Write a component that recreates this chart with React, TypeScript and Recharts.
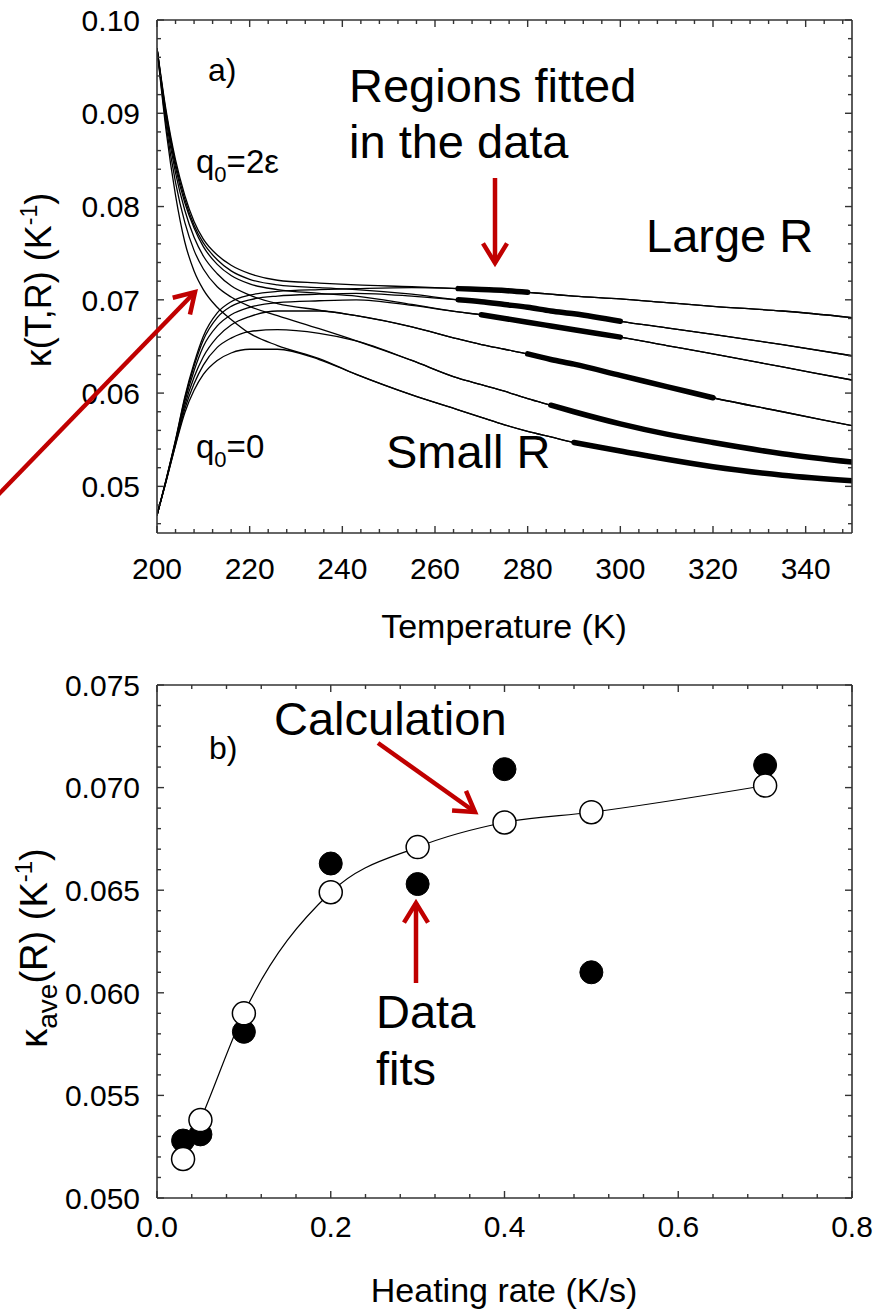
import React from 'react';
import { LineChart, Line, XAxis, YAxis } from 'recharts';

const FONT = '"Liberation Sans", Arial, Helvetica, sans-serif';
const AXIS = '#333333';
const RED = '#c00000';

// ---------- panel a) : kappa(T,R) curves ----------
const T_GRID = [200, 202, 204, 206, 208, 210, 213, 216, 220, 226, 235, 243, 255, 265, 270, 275, 280, 285, 290, 300, 310, 320, 335, 350];

const C1_TOP = [0.0970, 0.0902, 0.0850, 0.0812, 0.0784, 0.0765, 0.0748, 0.0737, 0.0728, 0.0721, 0.0718, 0.0716, 0.0714, 0.0712, 0.0711, 0.0710, 0.0708, 0.0706, 0.0704, 0.0701, 0.0697, 0.0693, 0.0688, 0.0681];
const C1_BOT = [0.0469, 0.0508, 0.0550, 0.0596, 0.0632, 0.0661, 0.0686, 0.0698, 0.0705, 0.0709, 0.0711, 0.0712, 0.0713, 0.0712, 0.0711, 0.0710, 0.0708, 0.0706, 0.0704, 0.0701, 0.0697, 0.0693, 0.0688, 0.0681];
const C2_TOP = [0.0970, 0.0899, 0.0846, 0.0808, 0.0780, 0.0761, 0.0743, 0.0731, 0.0722, 0.0716, 0.0713, 0.0711, 0.0706, 0.0700, 0.0698, 0.0695, 0.0692, 0.0688, 0.0685, 0.0677, 0.0670, 0.0663, 0.0652, 0.0640];
const C2_BOT = [0.0469, 0.0508, 0.0549, 0.0594, 0.0629, 0.0657, 0.0681, 0.0693, 0.0700, 0.0704, 0.0706, 0.0707, 0.0704, 0.0700, 0.0698, 0.0695, 0.0692, 0.0688, 0.0685, 0.0677, 0.0670, 0.0663, 0.0652, 0.0640];
const C3_TOP = [0.0970, 0.0896, 0.0842, 0.0804, 0.0777, 0.0757, 0.0738, 0.0726, 0.0717, 0.0711, 0.0707, 0.0704, 0.0695, 0.0687, 0.0684, 0.0680, 0.0676, 0.0672, 0.0668, 0.0660, 0.0651, 0.0642, 0.0628, 0.0614];
const C3_BOT = [0.0469, 0.0507, 0.0548, 0.0591, 0.0624, 0.0650, 0.0672, 0.0684, 0.0692, 0.0697, 0.0699, 0.0700, 0.0694, 0.0687, 0.0684, 0.0680, 0.0676, 0.0672, 0.0668, 0.0660, 0.0651, 0.0642, 0.0628, 0.0614];
const C4_TOP = [0.0970, 0.0892, 0.0836, 0.0796, 0.0767, 0.0747, 0.0728, 0.0715, 0.0705, 0.0696, 0.0689, 0.0683, 0.0671, 0.0658, 0.0652, 0.0647, 0.0642, 0.0636, 0.0631, 0.0619, 0.0607, 0.0595, 0.0580, 0.0565];
const C4_BOT = [0.0469, 0.0507, 0.0547, 0.0587, 0.0617, 0.0639, 0.0660, 0.0673, 0.0682, 0.0688, 0.0688, 0.0683, 0.0671, 0.0658, 0.0652, 0.0647, 0.0642, 0.0636, 0.0631, 0.0619, 0.0607, 0.0595, 0.0580, 0.0565];
const C5_TOP = [0.0970, 0.0886, 0.0826, 0.0783, 0.0753, 0.0733, 0.0714, 0.0703, 0.0693, 0.0683, 0.0669, 0.0656, 0.0635, 0.0616, 0.0609, 0.0602, 0.0594, 0.0587, 0.0580, 0.0567, 0.0556, 0.0547, 0.0535, 0.0526];
const C5_BOT = [0.0469, 0.0506, 0.0545, 0.0583, 0.0610, 0.0630, 0.0649, 0.0659, 0.0666, 0.0668, 0.0664, 0.0656, 0.0635, 0.0616, 0.0609, 0.0602, 0.0594, 0.0587, 0.0580, 0.0567, 0.0556, 0.0547, 0.0535, 0.0526];
const C6_TOP = [0.0970, 0.0880, 0.0812, 0.0762, 0.0731, 0.0711, 0.0692, 0.0679, 0.0664, 0.0651, 0.0637, 0.0620, 0.0598, 0.0582, 0.0574, 0.0566, 0.0559, 0.0553, 0.0547, 0.0538, 0.0529, 0.0521, 0.0512, 0.0506];
const C6_BOT = [0.0469, 0.0506, 0.0544, 0.0579, 0.0603, 0.0620, 0.0635, 0.0643, 0.0647, 0.0647, 0.0636, 0.0620, 0.0598, 0.0582, 0.0574, 0.0566, 0.0559, 0.0553, 0.0547, 0.0538, 0.0529, 0.0521, 0.0512, 0.0506];

// fitted temperature windows (thick segments), per curve pair
const FIT_START = [265, 265, 270, 280, 285, 290];
const FIT_END = [280, 300, 300, 320, 350, 350];

const A_X_TICKS = [200, 204, 208, 212, 216, 220, 224, 228, 232, 236, 240, 244, 248, 252, 256, 260, 264, 268, 272, 276, 280, 284, 288, 292, 296, 300, 304, 308, 312, 316, 320, 324, 328, 332, 336, 340, 344, 348];
const A_X_MAJOR = [200, 220, 240, 260, 280, 300, 320, 340];
const A_Y_TICKS = [0.046, 0.048, 0.05, 0.052, 0.054, 0.056, 0.058, 0.06, 0.062, 0.064, 0.066, 0.068, 0.07, 0.072, 0.074, 0.076, 0.078, 0.08, 0.082, 0.084, 0.086, 0.088, 0.09, 0.092, 0.094, 0.096, 0.098, 0.1];
const A_Y_MAJOR = [0.05, 0.06, 0.07, 0.08, 0.09, 0.1];

// ---------- panel b) ----------
const RATE = [0.03, 0.05, 0.1, 0.2, 0.3, 0.4, 0.5, 0.7];
const FITS = [0.0528, 0.0531, 0.0581, 0.0663, 0.0653, 0.0709, 0.0610, 0.0711];
const CALC = [0.0519, 0.0538, 0.0590, 0.0649, 0.0671, 0.0683, 0.0688, 0.0701];

const B_X_TICKS = [0, 0.04, 0.08, 0.12, 0.16, 0.2, 0.24, 0.28, 0.32, 0.36, 0.4, 0.44, 0.48, 0.52, 0.56, 0.6, 0.64, 0.68, 0.72, 0.76, 0.8];
const B_X_MAJOR = [0, 0.2, 0.4, 0.6, 0.8];
const B_Y_TICKS = [0.05, 0.051, 0.052, 0.053, 0.054, 0.055, 0.056, 0.057, 0.058, 0.059, 0.06, 0.061, 0.062, 0.063, 0.064, 0.065, 0.066, 0.067, 0.068, 0.069, 0.07, 0.071, 0.072, 0.073, 0.074, 0.075];
const B_Y_MAJOR = [0.05, 0.055, 0.06, 0.065, 0.07, 0.075];

const CURVES = [
  { top: C1_TOP, bot: C1_BOT },
  { top: C2_TOP, bot: C2_BOT },
  { top: C3_TOP, bot: C3_BOT },
  { top: C4_TOP, bot: C4_BOT },
  { top: C5_TOP, bot: C5_BOT },
  { top: C6_TOP, bot: C6_BOT },
];

const tableA = T_GRID.map((T, i) => {
  const row: Record<string, number | null> = { T };
  CURVES.forEach((c, j) => {
    row[`t${j}`] = c.top[i];
    row[`b${j}`] = c.bot[i];
    row[`f${j}`] = T >= FIT_START[j] && T <= FIT_END[j] ? c.top[i] : null;
  });
  return row;
});

const tableB = RATE.map((r, i) => ({ r, fit: FITS[i], calc: CALC[i] }));

const isIn = (v: number, arr: number[]) => arr.some((m) => Math.abs(m - v) < 1e-9);

type Side = 'bottom' | 'top' | 'left' | 'right';

function makeTick(side: Side, majors: number[], fmt: ((v: number) => string) | null, off: number) {
  return (props: any) => {
    const { x, y, payload } = props;
    const v = payload.value as number;
    const major = isIn(v, majors);
    const len = major ? 7 : 4;
    let x2 = x, y2 = y;
    if (side === 'bottom') y2 = y - len;
    if (side === 'top') y2 = y + len;
    if (side === 'left') x2 = x + len;
    if (side === 'right') x2 = x - len;
    let label = null;
    if (major && fmt) {
      if (side === 'bottom') {
        label = (
          <text x={x} y={y + off} textAnchor="middle" fontSize={30} fontFamily={FONT} fill="#000">
            {fmt(v)}
          </text>
        );
      } else if (side === 'left') {
        label = (
          <text x={x - off} y={y} dy="0.36em" textAnchor="end" fontSize={30} fontFamily={FONT} fill="#000">
            {fmt(v)}
          </text>
        );
      }
    }
    return (
      <g>
        <line x1={x} y1={y} x2={x2} y2={y2} stroke={AXIS} strokeWidth={1.4} />
        {label}
      </g>
    );
  };
}

function Arrow({ x1, y1, x2, y2 }: { x1: number; y1: number; x2: number; y2: number }) {
  const ang = Math.atan2(y2 - y1, x2 - x1);
  const L = 23;
  const s = 0.55;
  const a1 = ang + Math.PI - s;
  const a2 = ang + Math.PI + s;
  return (
    <g stroke={RED} strokeWidth={4.5} fill="none">
      <line x1={x1} y1={y1} x2={x2} y2={y2} />
      <polyline
        points={`${x2 + L * Math.cos(a1)},${y2 + L * Math.sin(a1)} ${x2},${y2} ${x2 + L * Math.cos(a2)},${y2 + L * Math.sin(a2)}`}
        strokeLinejoin="miter"
      />
    </g>
  );
}

const axisLine = { stroke: AXIS, strokeWidth: 1.6 };

function PanelA() {
  return (
    <LineChart width={892} height={660} data={tableA} margin={{ top: 19, right: 39, bottom: 126, left: 156 }}>
      <XAxis
        xAxisId="b" dataKey="T" type="number" domain={[200, 350]} allowDataOverflow
        ticks={A_X_TICKS} interval={0} height={1} tickSize={0} tickMargin={0} axisLine={axisLine} tickLine={false}
        tick={makeTick('bottom', A_X_MAJOR, (v) => String(v), 46)}
      />
      <XAxis
        xAxisId="t" orientation="top" dataKey="T" type="number" domain={[200, 350]} allowDataOverflow
        ticks={A_X_TICKS} interval={0} height={1} tickSize={0} tickMargin={0} axisLine={axisLine} tickLine={false}
        tick={makeTick('top', A_X_MAJOR, null, 0)}
      />
      <YAxis
        yAxisId="l" type="number" domain={[0.045, 0.1]} allowDataOverflow
        ticks={A_Y_TICKS} interval={0} width={1} tickSize={0} tickMargin={0} axisLine={axisLine} tickLine={false}
        tick={makeTick('left', A_Y_MAJOR, (v) => v.toFixed(2), 17)}
      />
      <YAxis
        yAxisId="r" orientation="right" type="number" domain={[0.045, 0.1]} allowDataOverflow
        ticks={A_Y_TICKS} interval={0} width={1} tickSize={0} tickMargin={0} axisLine={axisLine} tickLine={false}
        tick={makeTick('right', A_Y_MAJOR, null, 0)}
      />
      {CURVES.map((_, j) => (
        <Line key={`t${j}`} xAxisId="b" yAxisId="l" type="monotone" dataKey={`t${j}`} stroke="#000" strokeWidth={1.3} dot={false} activeDot={false} isAnimationActive={false} />
      ))}
      {CURVES.map((_, j) => (
        <Line key={`b${j}`} xAxisId="b" yAxisId="l" type="monotone" dataKey={`b${j}`} stroke="#000" strokeWidth={1.3} dot={false} activeDot={false} isAnimationActive={false} />
      ))}
      {CURVES.map((_, j) => (
        <Line key={`f${j}`} xAxisId="b" yAxisId="l" type="monotone" dataKey={`f${j}`} stroke="#000" strokeWidth={5.5} strokeLinecap="round" dot={false} activeDot={false} connectNulls={false} isAnimationActive={false} />
      ))}
    </LineChart>
  );
}

function PanelB() {
  return (
    <LineChart width={892} height={650} data={tableB} margin={{ top: 24, right: 39, bottom: 111, left: 156 }}>
      <XAxis
        xAxisId="b" dataKey="r" type="number" domain={[0, 0.8]} allowDataOverflow
        ticks={B_X_TICKS} interval={0} height={1} tickSize={0} tickMargin={0} axisLine={axisLine} tickLine={false}
        tick={makeTick('bottom', B_X_MAJOR, (v) => v.toFixed(1), 39)}
      />
      <XAxis
        xAxisId="t" orientation="top" dataKey="r" type="number" domain={[0, 0.8]} allowDataOverflow
        ticks={B_X_TICKS} interval={0} height={1} tickSize={0} tickMargin={0} axisLine={axisLine} tickLine={false}
        tick={makeTick('top', B_X_MAJOR, null, 0)}
      />
      <YAxis
        yAxisId="l" type="number" domain={[0.05, 0.075]} allowDataOverflow
        ticks={B_Y_TICKS} interval={0} width={1} tickSize={0} tickMargin={0} axisLine={axisLine} tickLine={false}
        tick={makeTick('left', B_Y_MAJOR, (v) => v.toFixed(3), 17)}
      />
      <YAxis
        yAxisId="r" orientation="right" type="number" domain={[0.05, 0.075]} allowDataOverflow
        ticks={B_Y_TICKS} interval={0} width={1} tickSize={0} tickMargin={0} axisLine={axisLine} tickLine={false}
        tick={makeTick('right', B_Y_MAJOR, null, 0)}
      />
      <Line
        xAxisId="b" yAxisId="l" dataKey="fit" stroke="none" isAnimationActive={false} activeDot={false}
        dot={{ r: 11.5, fill: '#000', stroke: '#000', strokeWidth: 1 }}
      />
      <Line
        xAxisId="b" yAxisId="l" type="monotone" dataKey="calc" stroke="#000" strokeWidth={1.2} isAnimationActive={false} activeDot={false}
        dot={{ r: 11.5, fill: '#fff', stroke: '#000', strokeWidth: 1.5 }}
      />
    </LineChart>
  );
}

function Overlay() {
  const t = { fontFamily: FONT, fill: '#000' };
  return (
    <svg width={892} height={1310} style={{ position: 'absolute', left: 0, top: 0, pointerEvents: 'none' }}>
      {/* panel a texts */}
      <text x={208} y={81} fontSize={32} {...t}>a)</text>
      <text x={196} y={173} fontSize={33} {...t}>
        q<tspan dy={9} fontSize={22}>0</tspan><tspan dy={-9}>=2ε</tspan>
      </text>
      <text x={196} y={458} fontSize={33} {...t}>
        q<tspan dy={9} fontSize={22}>0</tspan><tspan dy={-9}>=0</tspan>
      </text>
      <text x={349} y={102} fontSize={47} {...t}>Regions fitted</text>
      <text x={349} y={158} fontSize={47} {...t}>in the data</text>
      <text x={646} y={252} fontSize={47} {...t}>Large R</text>
      <text x={386} y={468} fontSize={47} {...t}>Small R</text>
      <Arrow x1={495} y1={178} x2={495} y2={263} />
      <Arrow x1={-4} y1={497} x2={195} y2={292} />
      {/* axis titles a */}
      <text transform="translate(51,280) rotate(-90)" textAnchor="middle" fontSize={36} {...t}>
        κ(T,R) (K<tspan dy={-14} fontSize={23}>-1</tspan><tspan dy={14}>)</tspan>
      </text>
      <text x={504} y={638} textAnchor="middle" fontSize={34} {...t}>Temperature (K)</text>

      {/* panel b texts */}
      <text x={209} y={759} fontSize={32} {...t}>b)</text>
      <text x={274} y={735} fontSize={47} {...t}>Calculation</text>
      <text x={376} y={1028} fontSize={47} {...t}>Data</text>
      <text x={376} y={1085} fontSize={47} {...t}>fits</text>
      <Arrow x1={378} y1={743} x2={475} y2={812} />
      <Arrow x1={416} y1={983} x2={416} y2={903} />
      <text transform="translate(47,948) rotate(-90)" textAnchor="middle" fontSize={38} {...t}>
        κ<tspan dy={10} fontSize={28}>ave</tspan><tspan dy={-10}>(R) (K</tspan><tspan dy={-15} fontSize={24}>-1</tspan><tspan dy={15}>)</tspan>
      </text>
      <text x={504} y={1302} textAnchor="middle" fontSize={34} {...t}>Heating rate (K/s)</text>
    </svg>
  );
}

export default function App() {
  return (
    <div style={{ position: 'absolute', left: 0, top: 0, width: 892, height: 1310, background: '#fff', fontFamily: FONT }}>
      <div style={{ position: 'absolute', left: 0, top: 0 }}>
        <PanelA />
      </div>
      <div style={{ position: 'absolute', left: 0, top: 660 }}>
        <PanelB />
      </div>
      <Overlay />
    </div>
  );
}
